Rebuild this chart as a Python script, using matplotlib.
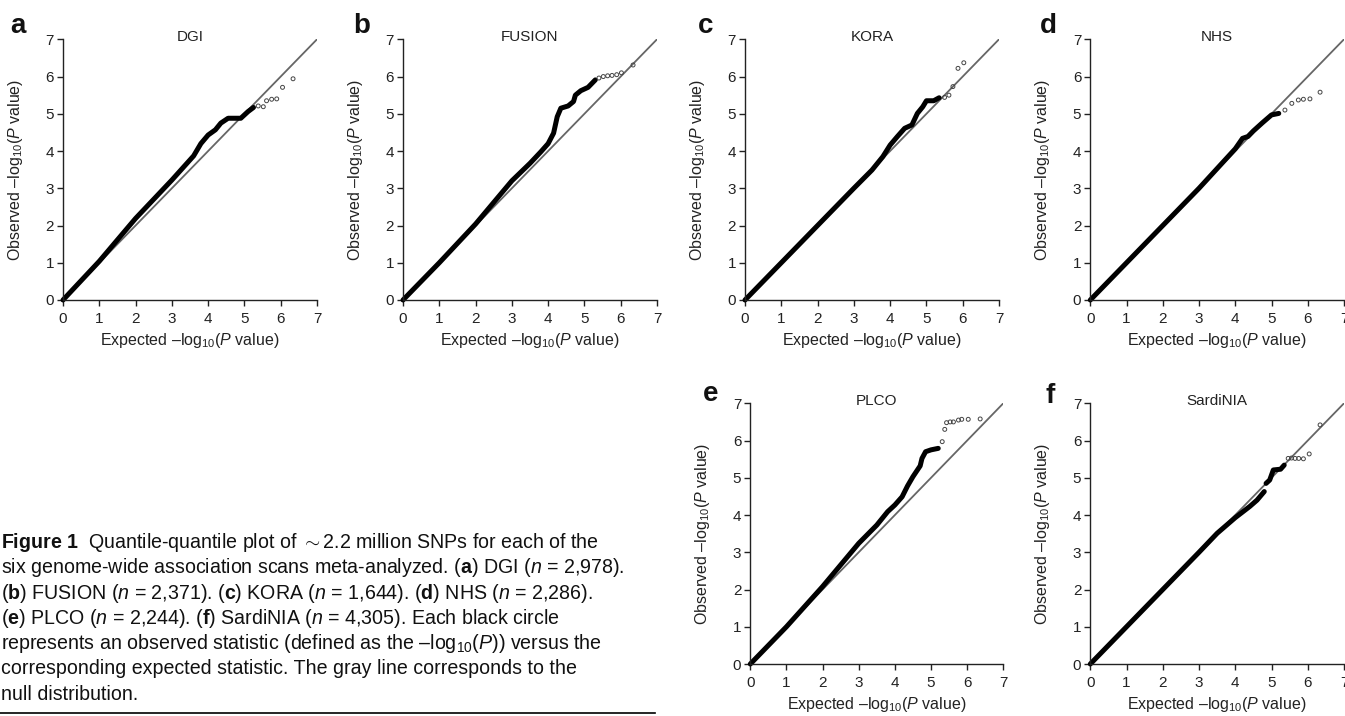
import matplotlib.pyplot as plt
from matplotlib.lines import Line2D

plt.rcParams['font.family'] = ['Liberation Sans', 'DejaVu Sans']
plt.rcParams['mathtext.fontset'] = 'custom'
plt.rcParams['mathtext.rm'] = 'Liberation Sans'
plt.rcParams['mathtext.it'] = 'Liberation Sans:italic'
plt.rcParams['mathtext.bf'] = 'Liberation Sans:bold'

names = ['DGI', 'FUSION', 'KORA', 'NHS', 'PLCO', 'SardiNIA']
letters = ['a', 'b', 'c', 'd', 'e', 'f']

# dense part of each QQ curve (expected, observed)
dgi_x = [0, 1, 2, 3, 3.6, 3.8, 4.0, 4.2, 4.35, 4.55, 4.9, 5.0, 5.1, 5.25]
dgi_y = [0, 1.04, 2.19, 3.22, 3.87, 4.2, 4.43, 4.57, 4.75, 4.88, 4.88, 4.97, 5.06, 5.17]
dgi_tail_x = [5.38, 5.52, 5.61, 5.75, 5.89, 6.05, 6.34]
dgi_tail_y = [5.21, 5.19, 5.35, 5.39, 5.40, 5.71, 5.94]

fusion_x = [0, 1, 2, 3, 3.5, 3.8, 4.0, 4.15, 4.25, 4.35, 4.55, 4.7, 4.75, 4.9, 5.1, 5.3]
fusion_y = [0, 1.0, 2.04, 3.2, 3.67, 3.98, 4.2, 4.48, 4.92, 5.15, 5.21, 5.33, 5.5, 5.62, 5.71, 5.91]
fusion_tail_x = [5.4, 5.52, 5.64, 5.76, 5.89, 6.02, 6.34]
fusion_tail_y = [5.96, 6.0, 6.02, 6.03, 6.05, 6.1, 6.31]

kora_x = [0, 1, 2, 3, 3.5, 3.8, 4.0, 4.2, 4.4, 4.6, 4.75, 4.9, 5.0, 5.2, 5.35]
kora_y = [0, 1.0, 2.0, 3.0, 3.49, 3.85, 4.16, 4.39, 4.61, 4.7, 5.01, 5.19, 5.35, 5.35, 5.43]
kora_tail_x = [5.5, 5.62, 5.73, 5.87, 6.03]
kora_tail_y = [5.44, 5.5, 5.73, 6.22, 6.37]

nhs_x = [0, 1, 2, 3, 4, 4.2, 4.35, 4.5, 4.75, 5.0, 5.2]
nhs_y = [0, 1, 2, 3, 4.06, 4.34, 4.39, 4.54, 4.76, 4.97, 5.01]
nhs_tail_x = [5.37, 5.56, 5.74, 5.88, 6.06, 6.34]
nhs_tail_y = [5.1, 5.28, 5.37, 5.39, 5.4, 5.58]

plco_x = [0, 1, 2, 3, 3.5, 3.8, 4.0, 4.2, 4.35, 4.5, 4.7, 4.75, 4.85, 5.0, 5.2]
plco_y = [0, 1.0, 2.08, 3.24, 3.73, 4.09, 4.27, 4.49, 4.78, 5.03, 5.32, 5.52, 5.7, 5.75, 5.79]
plco_tail_x = [5.31, 5.38, 5.43, 5.53, 5.62, 5.76, 5.85, 6.03, 6.36]
plco_tail_y = [5.97, 6.3, 6.48, 6.5, 6.5, 6.55, 6.57, 6.57, 6.58]

sard_x = [0, 1, 2, 3, 3.5, 4.0, 4.4, 4.6, 4.8]
sard_y = [0, 1, 2, 3, 3.51, 3.93, 4.23, 4.4, 4.63]
sard_x2 = [4.85, 4.95, 5.05, 5.25, 5.35]
sard_y2 = [4.85, 4.94, 5.21, 5.23, 5.34]
sard_tail_x = [5.46, 5.55, 5.65, 5.75, 5.88, 6.04, 6.34]
sard_tail_y = [5.52, 5.53, 5.52, 5.52, 5.51, 5.64, 6.42]

curves = [
    [(dgi_x, dgi_y)],
    [(fusion_x, fusion_y)],
    [(kora_x, kora_y)],
    [(nhs_x, nhs_y)],
    [(plco_x, plco_y)],
    [(sard_x, sard_y), (sard_x2, sard_y2)],
]
tails = [
    (dgi_tail_x, dgi_tail_y),
    (fusion_tail_x, fusion_tail_y),
    (kora_tail_x, kora_tail_y),
    (nhs_tail_x, nhs_tail_y),
    (plco_tail_x, plco_tail_y),
    (sard_tail_x, sard_tail_y),
]
ticks = [0, 1, 2, 3, 4, 5, 6, 7]

W, H = 1345, 716
# axes boxes in pixels: left, right, top, bottom
boxes = [
    (63, 317, 39.3, 300),
    (403, 657, 39.3, 300),
    (745, 999, 39.3, 300),
    (1090.3, 1344, 39.3, 300),
    (750.3, 1003.3, 403.3, 664),
    (1090.3, 1344, 403.3, 664),
]
letter_pos = [(10, 33), (353, 33), (698, 33), (1040, 33), (703, 401), (1045, 403)]

fig = plt.figure(figsize=(W / 100, H / 100), dpi=100)
txt = '#222222'

for i in range(6):
    l, r, t, b = boxes[i]
    ax = fig.add_axes([l / W, 1 - b / H, (r - l) / W, (b - t) / H])
    ax.plot([0, 7], [0, 7], color='#666666', lw=1.3, zorder=1)
    for cx, cy in curves[i]:
        ax.plot(cx, cy, color='black', lw=3.6, solid_capstyle='round',
                solid_joinstyle='round', zorder=2, clip_on=False)
    tx, ty = tails[i]
    ax.scatter(tx, ty, s=8, facecolors='none', edgecolors='#444444',
               linewidths=0.7, zorder=3)
    ax.set_xlim(0, 7)
    ax.set_ylim(0, 7)
    ax.set_xticks(ticks)
    ax.set_yticks(ticks)
    ax.spines['top'].set_visible(False)
    ax.spines['right'].set_visible(False)
    for s in ['left', 'bottom']:
        ax.spines[s].set_linewidth(1.0)
        ax.spines[s].set_color('#222222')
    ax.tick_params(axis='both', length=4, width=1.0, color='#222222',
                   labelsize=11, labelcolor=txt)
    ax.tick_params(axis='x', pad=4.5)
    ax.tick_params(axis='y', pad=2.5)
    ax.set_xlabel('Expected –log$_{10}$($P$ value)', fontsize=11.5, color=txt)
    ax.set_ylabel('Observed –log$_{10}$($P$ value)', fontsize=11.5, color=txt)
    ax.xaxis.set_label_coords(0.5, -0.12)
    ax.yaxis.set_label_coords(-0.15, 0.5)
    ax.text(3.5, 7.05, names[i], ha='center', va='center', fontsize=11,
            color=txt)
    lx, ly = letter_pos[i]
    fig.text(lx / W, 1 - ly / H, letters[i], fontsize=20, fontweight='bold',
             ha='left', va='baseline', color='#111111')

caption = [
    r'$\mathbf{Figure\ 1}$  Quantile-quantile plot of $\sim$2.2 million SNPs for each of the',
    r'six genome-wide association scans meta-analyzed. ($\mathbf{a}$) DGI ($n$ = 2,978).',
    r'($\mathbf{b}$) FUSION ($n$ = 2,371). ($\mathbf{c}$) KORA ($n$ = 1,644). ($\mathbf{d}$) NHS ($n$ = 2,286).',
    r'($\mathbf{e}$) PLCO ($n$ = 2,244). ($\mathbf{f}$) SardiNIA ($n$ = 4,305). Each black circle',
    r'represents an observed statistic (defined as the –log$_{10}$($P$)) versus the',
    r'corresponding expected statistic. The gray line corresponds to the',
    r'null distribution.',
]
for k, line in enumerate(caption):
    fig.text(1 / W, 1 - (548 + k * 25.3) / H, line, fontsize=14.1,
             ha='left', va='baseline', color='#111111')

fig.add_artist(Line2D([0, 655 / W], [1 - 712.7 / H, 1 - 712.7 / H],
                      color='black', lw=1.2))

fig.savefig('out.png', dpi=100)
